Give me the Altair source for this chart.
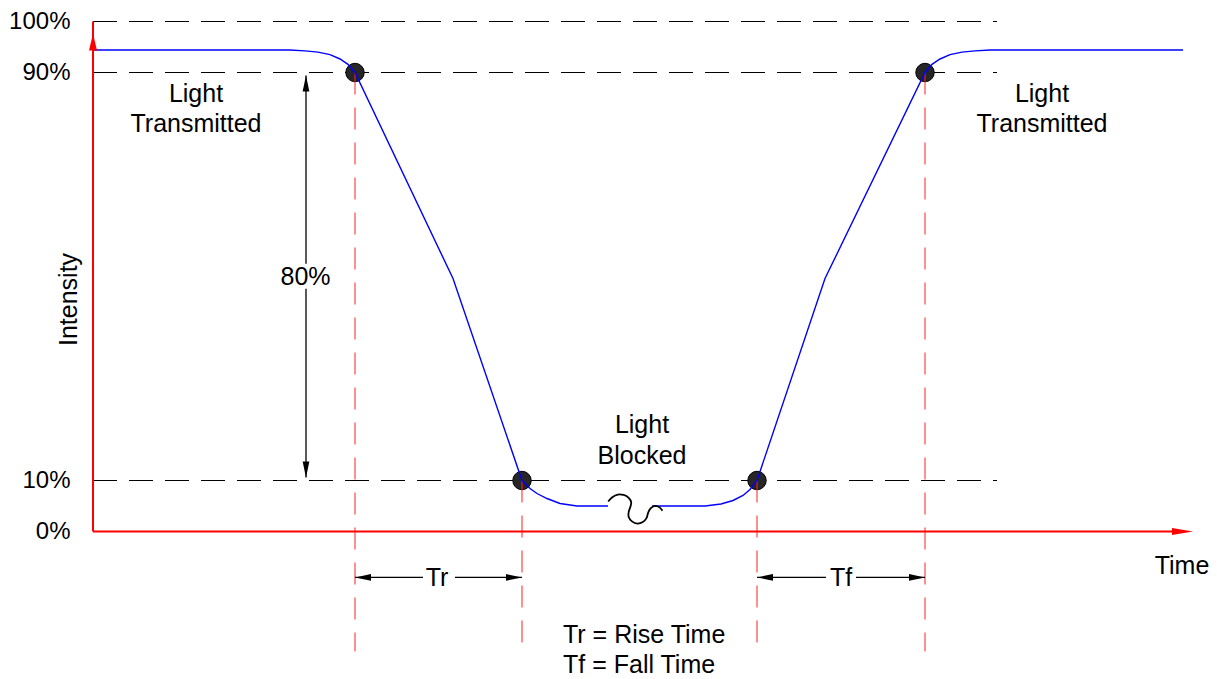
import altair as alt
import pandas as pd

FONT = "Liberation Sans"

# ---------------- data (time in arbitrary units, intensity in %) ----------------
curve_a_t = [0.0, 19.7, 21.2, 22.5, 23.7, 24.7, 25.5, 26.2, 36.0, 42.9, 43.7, 44.4, 45.4, 46.7, 48.4, 51.5]
curve_a_v = [94.4, 94.4, 94.25, 94.0, 93.5, 92.65, 91.6, 90.0, 49.6, 10.0, 8.43, 7.45, 6.47, 5.49, 5.0, 5.0]
curve_b_t = [55.9, 61.2, 62.8, 64.0, 65.0, 65.7, 66.4, 73.2, 83.2, 83.9, 84.7, 85.7, 86.9, 88.2, 89.7, 109.0]
curve_b_v = [5.0, 5.0, 5.39, 6.08, 7.06, 8.24, 10.0, 49.6, 90.0, 91.6, 92.65, 93.5, 94.0, 94.25, 94.4, 94.4]

squiggle_t = [51.52, 51.93, 52.48, 53.06, 53.57, 53.82, 53.73, 53.57, 53.57, 53.90, 54.44, 54.98,
              55.35, 55.52, 55.78, 56.24, 56.65, 56.94]
squiggle_v = [5.88, 6.73, 7.25, 7.16, 6.60, 5.74, 4.79, 3.86, 2.85, 1.99, 1.55, 1.86,
              2.63, 3.71, 4.58, 5.01, 4.73, 4.08]

level_pcts = [100, 90, 10]
level_end = 90.4

edge_t = [26.2, 42.9, 66.4, 83.2]
edge_v = [90, 10, 10, 90]
edge_bottom = -23.5

tick_values = [0, 10, 90, 100]

# dimension arrows
dim_v_t = [21.3, 21.3]
dim_v_from = [89.4, 47.6]
dim_v_to = [52.5, 10.6]
dim_h_v = -9.0
dim_h_from = [26.2, 36.2, 66.4, 76.3]
dim_h_to = [33.0, 42.9, 73.3, 83.2]

head_t = [21.3, 21.3, 26.2, 42.9, 66.4, 83.2]
head_v = [89.4, 10.6, -9.0, -9.0, -9.0, -9.0]
head_dir = ["up", "down", "left", "right", "left", "right"]

# text
label_t = [10.3, 10.3, 94.9, 94.9, 54.9, 54.9, 21.25, 34.4, 74.8, 108.9]
label_v = [84.12, 78.24, 84.12, 78.24, 19.22, 13.33, 48.24, -10.59, -10.59, -8.24]
label_s = ["Light", "Transmitted", "Light", "Transmitted", "Light", "Blocked", "80%", "Tr", "Tf", "Time"]
note_t = [47.0, 47.0]
note_v = [-21.96, -27.84]
note_s = ["Tr = Rise Time", "Tf = Fall Time"]

# ---------------- encodings ----------------
X_SCALE = alt.Scale(domain=[0, 110], nice=False, zero=False)
Y_SCALE = alt.Scale(domain=[0, 100], nice=False, zero=False)
Y_AXIS = alt.Axis(values=tick_values, labelExpr="datum.value + '%'", domain=False, ticks=False,
                  grid=False, labelPadding=23, labelFontSize=24, labelFont=FONT,
                  labelColor="#000000", title=None)


def X(f):
    return alt.X(f, type="quantitative", scale=X_SCALE, axis=None)


def Y(f):
    return alt.Y(f, type="quantitative", scale=Y_SCALE, axis=Y_AXIS)


curve_df = pd.DataFrame({
    "t": curve_a_t + curve_b_t,
    "v": curve_a_v + curve_b_v,
    "seg": ["a"] * len(curve_a_t) + ["b"] * len(curve_b_t),
})
squiggle_df = pd.DataFrame({"t": squiggle_t, "v": squiggle_v, "i": list(range(len(squiggle_t)))})
levels_df = pd.DataFrame({"v": level_pcts, "t0": [0] * 3, "t1": [level_end] * 3})
edges_df = pd.DataFrame({"t": edge_t, "v": edge_v, "vb": [edge_bottom] * 4})
dots_df = pd.DataFrame({"t": edge_t, "v": edge_v})
dimv_df = pd.DataFrame({"t": dim_v_t, "v0": dim_v_from, "v1": dim_v_to})
dimh_df = pd.DataFrame({"t0": dim_h_from, "t1": dim_h_to, "v": [dim_h_v] * 4})
heads_df = pd.DataFrame({"t": head_t, "v": head_v, "dir": head_dir})
labels_df = pd.DataFrame({"t": label_t, "v": label_v, "s": label_s})
notes_df = pd.DataFrame({"t": note_t, "v": note_v, "s": note_s})
axis_y_df = pd.DataFrame({"t": [0], "v0": [0], "v1": [100]})
axis_x_df = pd.DataFrame({"t0": [0], "t1": [108.5], "v": [0]})
axis_heads_df = pd.DataFrame({"t": [0, 110.0], "v": [97.65, 0], "dir": ["up", "right"]})
title_df = pd.DataFrame({"t": [-1.6], "v": [45.5], "s": ["Intensity"]})

levels = alt.Chart(levels_df).mark_rule(color="black", strokeWidth=1, strokeDash=[24, 12]).encode(
    x=X("t0"), x2="t1", y=Y("v"))

dots = alt.Chart(dots_df).mark_point(filled=True, shape="circle", size=340, color="#262626",
                                     stroke="black", strokeWidth=1, opacity=1).encode(
    x=X("t"), y=Y("v"))

edges = alt.Chart(edges_df).mark_rule(color="#ff2020", strokeWidth=1, strokeDash=[22, 13]).encode(
    x=X("t"), y=Y("v"), y2="vb")

curve = alt.Chart(curve_df).mark_line(color="#0000ff", strokeWidth=1.4).encode(
    x=X("t"), y=Y("v"), detail="seg:N", order="t:Q")

squiggle = alt.Chart(squiggle_df).mark_line(color="black", strokeWidth=1.8, interpolate="catmull-rom").encode(
    x=X("t"), y=Y("v"), order="i:Q")

dimv = alt.Chart(dimv_df).mark_rule(color="black", strokeWidth=1.3).encode(
    x=X("t"), y=Y("v0"), y2="v1")
dimh = alt.Chart(dimh_df).mark_rule(color="black", strokeWidth=1.3).encode(
    x=X("t0"), x2="t1", y=Y("v"))

black_paths = {
    "up": "M0,0L0.21,1L-0.21,1Z",
    "down": "M0,0L0.21,-1L-0.21,-1Z",
    "left": "M0,0L1,0.21L1,-0.21Z",
    "right": "M0,0L-1,0.21L-1,-0.21Z",
}
heads = alt.Chart(heads_df).mark_point(filled=True, color="black", opacity=1, size=1024, strokeWidth=0).encode(
    x=X("t"), y=Y("v"),
    shape=alt.Shape("dir:N", scale=alt.Scale(domain=list(black_paths.keys()),
                                             range=list(black_paths.values())), legend=None))

axis_y = alt.Chart(axis_y_df).mark_rule(color="#ff0000", strokeWidth=2).encode(
    x=X("t"), y=Y("v0"), y2="v1")
axis_x = alt.Chart(axis_x_df).mark_rule(color="#ff0000", strokeWidth=2).encode(
    x=X("t0"), x2="t1", y=Y("v"))
axis_head_up = alt.Chart(axis_heads_df).transform_filter("datum.dir == 'up'").mark_point(
    filled=True, color="#ff0000", opacity=1, size=1156, strokeWidth=0,
    shape="M0,0L0.235,1L-0.235,1Z").encode(x=X("t"), y=Y("v"))
axis_head_right = alt.Chart(axis_heads_df).transform_filter("datum.dir == 'right'").mark_point(
    filled=True, color="#ff0000", opacity=1, size=1764, strokeWidth=0,
    shape="M0,0L-1,0.167L-1,-0.167Z").encode(x=X("t"), y=Y("v"))

labels = alt.Chart(labels_df).mark_text(font=FONT, fontSize=25, color="black", align="center",
                                        baseline="alphabetic").encode(
    x=X("t"), y=Y("v"), text="s:N")
notes = alt.Chart(notes_df).mark_text(font=FONT, fontSize=25, color="black", align="left",
                                      baseline="alphabetic").encode(
    x=X("t"), y=Y("v"), text="s:N")
ytitle = alt.Chart(title_df).mark_text(font=FONT, fontSize=25, color="black", align="center",
                                       baseline="alphabetic", angle=270).encode(
    x=X("t"), y=Y("v"), text="s:N")

chart = alt.layer(
    levels, dots, edges, curve, squiggle, dimv, dimh, heads,
    axis_y, axis_x, axis_head_up, axis_head_right, labels, notes, ytitle
).properties(
    width=1100, height=510,
    padding={"left": 85, "top": 13.5, "right": 16, "bottom": 146},
    autosize=alt.AutoSizeParams(type="none"),
).configure_view(stroke=None)

chart.save("out.html", embed_options={"renderer": "svg", "actions": False})
